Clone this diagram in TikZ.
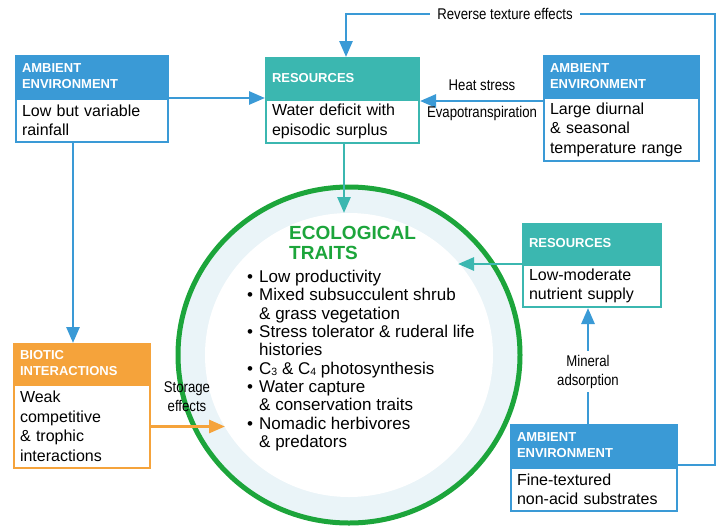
\documentclass[tikz,border=0pt]{standalone}
\usepackage{fontspec}
\setmainfont{Liberation Sans}
\newfontfamily\condfont[FakeStretch=0.85]{Liberation Sans}
\usetikzlibrary{arrows.meta,calc}
\definecolor{cblue}{HTML}{3A9AD6}
\definecolor{cteal}{HTML}{3BB7B0}
\definecolor{corange}{HTML}{F5A33B}
\definecolor{cgreen}{HTML}{1CA53B}
\definecolor{cring}{HTML}{EAF4F8}
\newcommand\bl{\makebox[12pt][l]{•}}
\newcommand\ind{\makebox[12pt]{}}
\begin{document}
\begin{tikzpicture}[x=1pt,y=-1pt,
  hdr/.style={rectangle, draw=#1, fill=#1, line width=2pt, anchor=north west, align=left,
    inner xsep=6pt, inner ysep=0pt, text=white, font=\fontsize{13}{16}\selectfont\bfseries},
  bdy/.style={rectangle, draw=#1, fill=white, line width=2pt, anchor=north west, align=left,
    inner xsep=6pt, inner ysep=0pt, font=\fontsize{16}{19.5}\selectfont},
  arr/.style={line width=2.8pt, -{Triangle[length=16pt,width=13pt]}},
  lbl/.style={font=\condfont\fontsize{15.5}{19}\selectfont, align=center, inner sep=1pt},
  bul/.style={font=\fontsize{17}{18.33}\selectfont, align=left, inner sep=0pt, anchor=west}
]
\useasboundingbox (0,0) rectangle (722,528);

% circle with ring
\fill[cring] (349,355) ellipse [x radius=171, y radius=168];
\fill[white] (349,355) ellipse [x radius=144, y radius=142];
\draw[cgreen, line width=5pt] (349,355) ellipse [x radius=171, y radius=168];

\node[font=\fontsize{19}{20.5}\selectfont\bfseries, text=cgreen, align=left, anchor=west, inner sep=0pt]
  (title) at (289,243) {ECOLOGICAL\\TRAITS};
\node[bul] (traits) at (247,360.5) {%
\bl Low productivity\\
\bl Mixed subsucculent shrub\\
\ind\& grass vegetation\\
\bl Stress tolerator \& ruderal life\\
\ind histories\\
\bl C\raisebox{-1pt}{\fontsize{10.5}{10}\selectfont 3} \& C\raisebox{-1pt}{\fontsize{10.5}{10}\selectfont 4} photosynthesis\\
\bl Water capture\\
\ind\& conservation traits\\
\bl Nomadic herbivores\\
\ind\& predators};

% boxes
\node[hdr=cblue, minimum width=152pt, text width=140pt, minimum height=41pt] (a1h) at (15,55) {AMBIENT\\ENVIRONMENT};
\node[bdy=cblue, minimum width=152pt, text width=140pt, minimum height=43pt] (a1) at (a1h.south west) {Low but variable\\rainfall};

\node[hdr=cteal, minimum width=153pt, text width=141pt, minimum height=40pt] (r1h) at (265,57) {RESOURCES};
\node[bdy=cteal, minimum width=153pt, text width=141pt, minimum height=43pt] (r1) at (r1h.south west) {Water deficit with\\episodic surplus};

\node[hdr=cblue, minimum width=155pt, text width=143pt, minimum height=40pt] (a2h) at (543,55) {AMBIENT\\ENVIRONMENT};
\node[bdy=cblue, minimum width=155pt, text width=143pt, minimum height=63pt] (a2) at (a2h.south west) {Large diurnal\\\& seasonal\\temperature range};

\node[hdr=cteal, minimum width=138pt, text width=126pt, minimum height=39pt] (r2h) at (522,223) {RESOURCES};
\node[bdy=cteal, minimum width=138pt, text width=126pt, minimum height=42pt] (r2) at (r2h.south west) {Low-moderate\\nutrient supply};

\node[hdr=cblue, minimum width=166pt, text width=154pt, minimum height=41pt] (a3h) at (510,424) {AMBIENT\\ENVIRONMENT};
\node[bdy=cblue, minimum width=166pt, text width=154pt, minimum height=43pt] (a3) at (a3h.south west) {Fine-textured\\non-acid substrates};

\node[hdr=corange, minimum width=136pt, text width=124pt, minimum height=39pt] (bih) at (13,343) {BIOTIC\\INTERACTIONS};
\node[bdy=corange, minimum width=136pt, text width=124pt, minimum height=83pt] (bi) at (bih.south west) {Weak\\competitive\\\& trophic\\interactions};

% connectors
\coordinate (rtc) at (715,14);
\coordinate (ctop) at (343,213);
\coordinate (cright) at (458,262);
\coordinate (cleft) at (225,424);

\draw[arr, cblue] (a1h.south east) -- (a1h.south east -| r1.west);
\draw[arr, cblue] ([xshift=58pt]a1.south west) -- ([xshift=58pt]a1.south west |- bih.north);
\draw[arr, cblue] ([yshift=-4pt]a2h.south west) -- ([yshift=-4pt]a2h.south west -| r1.east);
\draw[arr, cblue] ([yshift=2pt]a3h.south east) -| (rtc) -| ([xshift=3.5pt]r1h.north);
\draw[arr, cteal] ([xshift=1.5pt]r1.south) -- ([xshift=1.5pt]r1.south |- ctop);
\draw[arr, cteal] (r2h.south west) -- (r2h.south west -| cright);
\draw[arr, corange] (bi.east) -- (bi.east -| cleft);

\node[lbl, fill=white, inner xsep=7pt] (rev) at (505,14) {Reverse texture effects};
\node[lbl] (heat) at (482,85) {Heat stress};
\node[lbl] (evap) at (482,113) {Evapotranspiration};
\node[lbl] (stor) at (187,397) {Storage\\effects};
\coordinate (mpos) at (588,371.5);
\draw[arr, cblue] (mpos |- a3h.north) -- (mpos |- r2.south);
\node[lbl, fill=white, inner ysep=4pt] (mine) at (mpos) {Mineral\\adsorption};
\end{tikzpicture}
\end{document}
